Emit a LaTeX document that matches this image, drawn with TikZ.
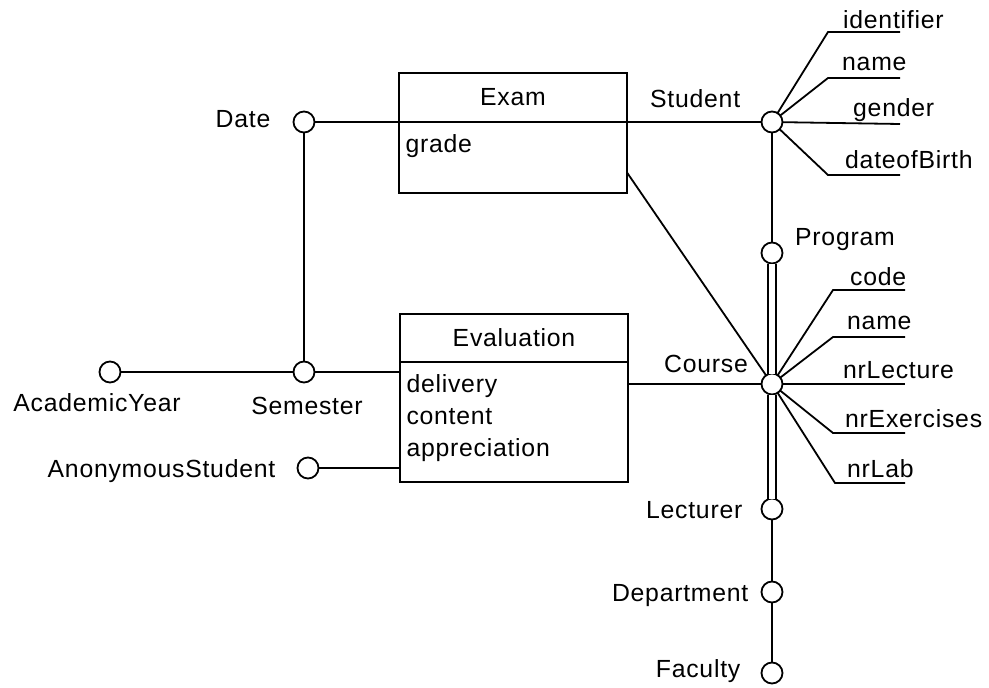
\documentclass[tikz,border=0pt]{standalone}
\usepackage{fontspec}
\setmainfont[LetterSpace=3]{Liberation Sans}
\usetikzlibrary{positioning}
\def\circSize{21pt}
\def\boxWidth{228pt}
\tikzset{
  conn/.style  = {circle, draw, fill=white, line width=1.8pt, minimum size=\circSize, inner sep=0, outer sep=0},
  head/.style  = {draw, rectangle, line width=1.8pt, minimum width=\boxWidth, minimum height=49pt, inner sep=0, outer sep=0},
  body/.style  = {draw, rectangle, line width=1.8pt, minimum width=\boxWidth, inner sep=0, outer sep=0},
  lbl/.style   = {inner sep=1pt, text height=18pt, text depth=0pt},
  attr/.style  = {inner sep=0pt, anchor=base west},
  link/.style  = {line width=1.8pt},
  dlink/.style = {line width=1.8pt, double, double distance=5.5pt},
}

\begin{document}
\begin{tikzpicture}[x=1pt, y=-1pt, font=\fontsize{24.8}{32}\selectfont]
\useasboundingbox (0,0) rectangle (989,688);

        \node[head] at (513,97.5) (ExamHead) {Exam};
        \node[body, minimum height=71pt, below=0pt of ExamHead,
          label={[anchor=north west, xshift=3pt, yshift=-9pt]north west:grade}] (ExamBody) {};

        \node[head, minimum height=48pt] at (514,338) (EvalHead) {Evaluation};
        \node[body, minimum height=120pt, below=0pt of EvalHead,
          label={[anchor=north west, align=left, xshift=3pt, yshift=-9pt]north west:delivery\\content\\appreciation}] (EvalBody) {};

        % lexical objects
        \node[conn] at (304,122) (Date) {};
        \node[conn] at (304,372) (Semester) {};
        \node[conn] at (110,372) (AcYear) {};
        \node[conn] at (308,468) (AnonStudent) {};

        \node[conn] at (772,122) (Student) {};
        \node[conn] at (772,253) (Program) {};
        \node[conn] at (772,384) (Course) {};
        \node[conn] at (772,509) (Lecturer) {};
        \node[conn] at (772,592) (Department) {};
        \node[conn] at (772,673) (Faculty) {};

        \node[lbl, left=22pt of Date, yshift=4pt] (DateLbl) {Date};
        \node[lbl, below=10pt of AcYear, xshift=-13pt] (AcYearLbl) {AcademicYear};
        \node[lbl, below=13pt of Semester, xshift=3pt] (SemesterLbl) {Semester};
        \node[lbl, left=21pt of AnonStudent] (AnonStudentLbl) {AnonymousStudent};
        \node[lbl, anchor=west] at (649,98) (StudentLbl) {Student};
        \node[lbl, anchor=west] at (794,236) (ProgramLbl) {Program};
        \node[lbl, anchor=east] at (749,363) (CourseLbl) {Course};
        \node[lbl, left=18pt of Lecturer] (LecturerLbl) {Lecturer};
        \node[lbl, left=12pt of Department] (DepartmentLbl) {Department};
        \node[lbl, left=20pt of Faculty, yshift=5pt] (FacultyLbl) {Faculty};

        % attributes of Student
        \coordinate (StIdEnd) at (900,32);
        \coordinate (StNameEnd) at (900,78);
        \coordinate (StGenderEnd) at (900,124);
        \coordinate (StBirthEnd) at (900,175);

        \node[attr] at (843,28) (StIdLbl) {identifier};
        \node[attr] at (842,70) (StNameLbl) {name};
        \node[attr] at (853,116) (StGenderLbl) {gender};
        \node[attr] at (845,168) (StBirthLbl) {dateofBirth};

        \draw[link] (Student) -- ([xshift=-72pt]StIdEnd) -- (StIdEnd);
        \draw[link] (Student) -- ([xshift=-72pt]StNameEnd) -- (StNameEnd);
        \draw[link] (Student) -- (StGenderEnd);
        \draw[link] (Student) -- ([xshift=-72pt]StBirthEnd) -- (StBirthEnd);

        % attributes of Course
        \coordinate (CoCodeEnd) at (905,290);
        \coordinate (CoNameEnd) at (905,337);
        \coordinate (CoLectEnd) at (905,384);
        \coordinate (CoExEnd) at (905,433);
        \coordinate (CoLabEnd) at (905,483);

        \node[attr] at (850,285) (CoCodeLbl) {code};
        \node[attr] at (847,329) (CoNameLbl) {name};
        \node[attr] at (843,378) (CoLectLbl) {nrLecture};
        \node[attr] at (845,427) (CoExLbl) {nrExercises};
        \node[attr] at (847,477) (CoLabLbl) {nrLab};

        \draw[link] (Course) -- ([xshift=-72pt]CoCodeEnd) -- (CoCodeEnd);
        \draw[link] (Course) -- ([xshift=-72pt]CoNameEnd) -- (CoNameEnd);
        \draw[link] (Course) -- (CoLectEnd);
        \draw[link] (Course) -- ([xshift=-72pt]CoExEnd) -- (CoExEnd);
        \draw[link] (Course) -- ([xshift=-70pt]CoLabEnd) -- (CoLabEnd);

        % roles
        \draw[link] (Date) -- (Student);
        \draw[link] (Date) -- (Semester);
        \draw[link] (AcYear) -- (Semester);
        \draw[link] (Semester) -- (Semester -| EvalBody.west);
        \draw[link] (AnonStudent) -- (AnonStudent -| EvalBody.west);
        \draw[link] (Course) -- (Course -| EvalBody.east);
        \draw[link] ([yshift=-15pt]ExamBody.east) -- (Course);

        \draw[link] (Student) -- (Program);
        \draw[dlink] (Program) -- (Course);
        \draw[dlink] (Course) -- (Lecturer);
        \draw[link] (Lecturer) -- (Department);
        \draw[link] (Department) -- (Faculty);

\end{tikzpicture}
\end{document}
